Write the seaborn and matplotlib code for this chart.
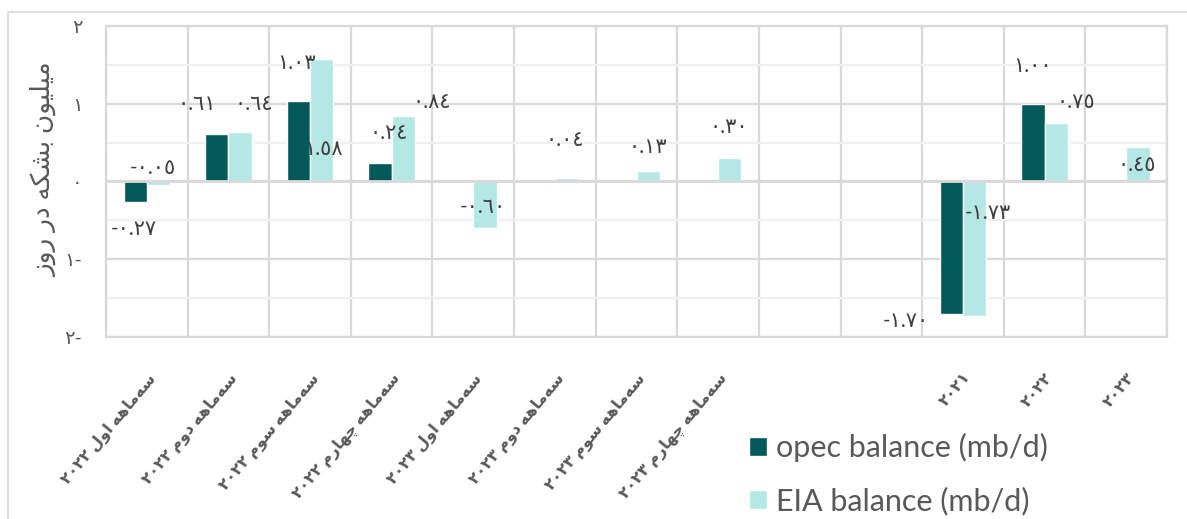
import re
import numpy as np
import pandas as pd
import matplotlib
matplotlib.use("Agg")
import matplotlib.pyplot as plt
import matplotlib.patches as mpatches
import seaborn as sns

nan = np.nan

# chart data
categories = ["سه‌ماهه اول ۲۰۲۲", "سه‌ماهه دوم ۲۰۲۲", "سه‌ماهه سوم ۲۰۲۲", "سه‌ماهه چهارم ۲۰۲۲",
              "سه‌ماهه اول ۲۰۲۳", "سه‌ماهه دوم ۲۰۲۳", "سه‌ماهه سوم ۲۰۲۳", "سه‌ماهه چهارم ۲۰۲۳",
              "", "", "۲۰۲۱", "۲۰۲۲", "۲۰۲۳"]
opec = [-0.27, 0.61, 1.03, 0.24, nan, nan, nan, nan, nan, nan, -1.70, 1.00, nan]
eia = [-0.05, 0.64, 1.58, 0.84, -0.60, 0.04, 0.13, 0.30, nan, nan, -1.73, 0.75, 0.45]
series_names = ["opec balance (mb/d)", "EIA balance (mb/d)"]
y_title = "میلیون بشکه در روز"
y_ticks = [-2, -1, 0, 1, 2]

# where excel left the data labels: (dx from bar centre in categories, dy from bar end in data units)
opec_lab = [(-0.02, -0.34), (-0.24, 0.39), (-0.02, 0.49), (0.10, 0.39), None, None, None, None,
            None, None, (-0.56, -0.10), (-0.01, 0.49), None]
eia_lab = [(-0.07, 0.22), (0.17, 0.36), (0.02, -1.16), (0.35, 0.18), (-0.02, 0.27), (-0.02, 0.50),
           (0.0, 0.32), (-0.01, 0.40), None, None, (0.16, 1.33), (0.24, 0.27), (-0.01, -0.24)]

dark = "#02595A"
light = "#B3E8E5"
grey_txt = "#595959"
grid_c = "#D9D9D9"

# matplotlib has no arabic shaping, so map letters to presentation forms by hand
FORMS = {
    "ا": ("\uFE8D", "\uFE8E", None, None),
    "ب": ("\uFE8F", "\uFE90", "\uFE91", "\uFE92"),
    "د": ("\uFEA9", "\uFEAA", None, None),
    "ر": ("\uFEAD", "\uFEAE", None, None),
    "ز": ("\uFEAF", "\uFEB0", None, None),
    "س": ("\uFEB1", "\uFEB2", "\uFEB3", "\uFEB4"),
    "ش": ("\uFEB5", "\uFEB6", "\uFEB7", "\uFEB8"),
    "ل": ("\uFEDD", "\uFEDE", "\uFEDF", "\uFEE0"),
    "م": ("\uFEE1", "\uFEE2", "\uFEE3", "\uFEE4"),
    "ن": ("\uFEE5", "\uFEE6", "\uFEE7", "\uFEE8"),
    "ه": ("\uFEE9", "\uFEEA", "\uFEEB", "\uFEEC"),
    "و": ("\uFEED", "\uFEEE", None, None),
    "ی": ("\uFBFC", "\uFBFD", "\uFBFE", "\uFBFF"),
    "ک": ("\uFB8E", "\uFB8F", "\uFB90", "\uFB91"),
    "چ": ("\uFB7A", "\uFB7B", "\uFB7C", "\uFB7D"),
}
DIGITS = "0-9\u0660-\u0669\u06F0-\u06F9."


def shape(s):
    out = []
    for i, ch in enumerate(s):
        f = FORMS.get(ch)
        if f is None:
            if ch != "\u200c":
                out.append(ch)
            continue
        prev = s[i - 1] if i > 0 else ""
        nxt = s[i + 1] if i + 1 < len(s) else ""
        pj = prev in FORMS and FORMS[prev][2] is not None
        nj = f[2] is not None and nxt in FORMS
        out.append(f[3] if pj and nj else f[1] if pj else f[2] if nj else f[0])
    return "".join(out)


def rtl(s):
    runs = re.findall(f"[{DIGITS}]+|[^{DIGITS}]+", shape(s))
    return "".join(r if re.match(f"[{DIGITS}]", r) else r[::-1] for r in reversed(runs))


def ar_num(v):
    return f"{v:.2f}".translate(str.maketrans("0123456789", "٠١٢٣٤٥٦٧٨٩"))


keys = [c if c else " " * (i + 1) for i, c in enumerate(categories)]
df = pd.DataFrame({
    "category": keys * 2,
    "series": [series_names[0]] * len(keys) + [series_names[1]] * len(keys),
    "value": opec + eia,
})

sns.set_style("white")
plt.rcParams["font.family"] = ["Lato", "DejaVu Sans"]

fig, ax = plt.subplots(figsize=(11.87, 5.19), dpi=100)
fig.subplots_adjust(left=0.0893, right=0.9832, top=0.9499, bottom=0.3507)

sns.barplot(data=df, x="category", y="value", hue="series", order=keys, hue_order=series_names,
            palette=[dark, light], saturation=1, width=0.57, errorbar=None, ax=ax)

ax.set_xlim(-0.5, len(keys) - 0.5)
ax.set_ylim(-2, 2)
ax.set_axisbelow(True)

# grid: category boundaries + integer and half lines
ax.set_xticks(np.arange(-0.5, len(keys), 1), minor=True)
ax.set_yticks(y_ticks)
ax.set_yticks([-1.5, -0.5, 0.5, 1.5], minor=True)
ax.grid(False)
ax.xaxis.grid(True, which="minor", color=grid_c, lw=1.6)
ax.yaxis.grid(True, which="major", color=grid_c, lw=1.6)
ax.yaxis.grid(True, which="minor", color="#F0F0F0", lw=1.6)
ax.axhline(0, color=grid_c, lw=2, zorder=3)
for sp in ax.spines.values():
    sp.set_color(grid_c)
    sp.set_linewidth(1.6)

ax.set_yticklabels([ar_num(abs(t))[0] + ("-" if t < 0 else "") for t in y_ticks])
ax.tick_params(axis="y", which="both", length=0, pad=17, labelsize=14, labelcolor=grey_txt)
ax.set_xticks(range(len(keys)))
ax.set_xticklabels([rtl(c) for c in categories], rotation=50, ha="right", va="top",
                   rotation_mode="anchor", fontsize=11.5, fontweight="bold", color=grey_txt)
ax.tick_params(axis="x", which="both", length=0, pad=24)

ax.set_xlabel("")
ax.set_ylabel(rtl(y_title), fontsize=19, color=grey_txt, va="center")
ax.yaxis.set_label_coords(-0.058, 0.537)

# data labels
for cont, offs, vals in zip(ax.containers, [opec_lab, eia_lab], [opec, eia]):
    for p in cont:
        h = p.get_height()
        if np.isnan(h):
            continue
        xc = p.get_x() + p.get_width() / 2
        i = int(round(xc))
        if offs[i] is None:
            continue
        dx, dy = offs[i]
        ax.text(xc + dx, h + dy, ar_num(vals[i]), ha="center", va="center",
                fontsize=15, color="#404040", zorder=5)

handles, labels = ax.get_legend_handles_labels()
ax.get_legend().remove()
fig.legend(handles, labels, loc="upper left", bbox_to_anchor=(749 / 1187, 1 - 433 / 519),
           frameon=False, fontsize=22, labelcolor=grey_txt, handlelength=0.6, handleheight=0.6,
           handletextpad=0.3, labelspacing=0.8, borderpad=0, borderaxespad=0)

# chart area outline (cropped at right and bottom)
fig.patches.append(mpatches.Rectangle((8 / 1187, -0.2), 1.2, 1.2 - 12 / 519, transform=fig.transFigure,
                                      fill=False, edgecolor=grid_c, lw=1.2))

fig.savefig("out.png", dpi=100)
